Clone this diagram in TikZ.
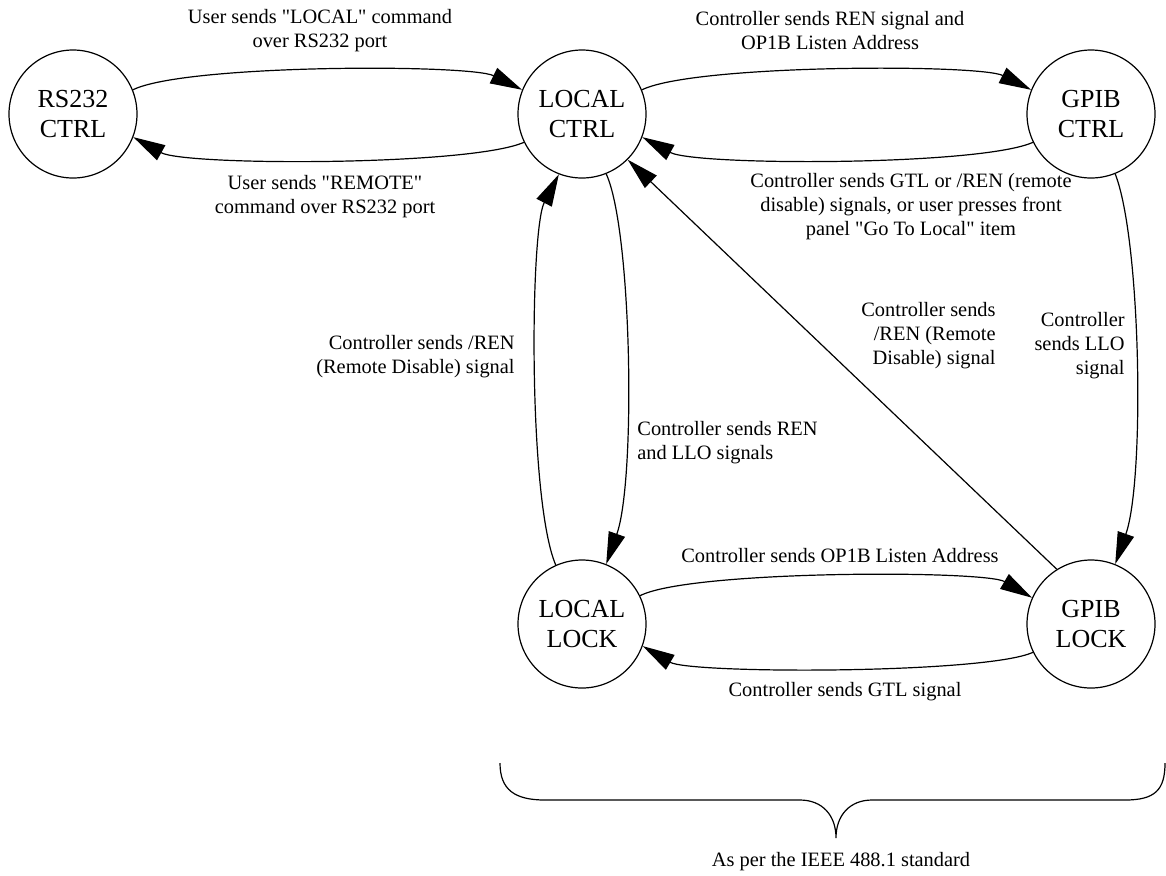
\documentclass[tikz,border=0pt]{standalone}
\usepackage{fontspec}
\setmainfont{Liberation Serif}[Ligatures=TeXOff]
\usetikzlibrary{arrows.meta}
\begin{document}
\begin{tikzpicture}[x=0.5pt,y=-0.5pt,
  state/.style={circle,draw,line width=0.6pt,minimum size=64pt,inner sep=0pt,align=center,
    font=\fontsize{13}{15}\selectfont},
  lbl/.style={inner sep=0pt,font=\fontsize{10.2}{12}\selectfont},
  conn/.style={line width=0.6pt,-{Triangle[length=16pt,width=8.5pt]}},
  plain/.style={line width=0.6pt}]
\useasboundingbox (0,0) rectangle (1166,875);

\node[state] (rs) at (73,114) {RS232\\CTRL};
\node[state] (lc) at (582,114) {LOCAL\\CTRL};
\node[state] (gc) at (1091,114) {GPIB\\CTRL};
\node[state] (ll) at (582,624) {LOCAL\\LOCK};
\node[state] (gl) at (1091,624) {GPIB\\LOCK};

% top row
\draw[conn] (rs.22) .. controls (185,64) and (470,64) .. (lc.158);
\draw[conn] (lc.206) .. controls (470,166) and (185,166) .. (rs.-21);
\draw[conn] (lc.22) .. controls (695,64) and (980,64) .. (gc.158);
\draw[conn] (gc.206) .. controls (980,166) and (695,166) .. (lc.-21);

% verticals
\draw[conn] (lc.-68) .. controls (632,230) and (636,480) .. (ll.68);
\draw[conn] (ll.114) .. controls (528,500) and (530,230) .. (lc.-111);
\draw[conn] (gc.-68) .. controls (1141,240) and (1145,480) .. (gl.68);
\draw[conn] (gl.122) -- (lc.-45);

% bottom row
\draw[conn] (ll.26) .. controls (690,570) and (985,570) .. (gl.156);
\draw[conn] (gl.206) .. controls (985,674) and (690,674) .. (ll.-20);

% labels
\node[lbl,align=center] (t1) at (320,31) {User sends "LOCAL" command\\over RS232 port};
\node[lbl,align=center] (t2) at (325,197) {User sends "REMOTE"\\command over RS232 port};
\node[lbl,align=center] (t3) at (830,31) {Controller sends REN signal and\\OP1B Listen Address};
\node[lbl,align=center] (t4) at (911,207) {Controller sends GTL or /REN (remote\\disable) signals, or user presses front\\panel "Go To Local" item};
\node[lbl,align=left,anchor=west] (t5) at (637,443) {Controller sends REN\\and LLO signals};
\node[lbl,align=right,anchor=east] (t6) at (515,357) {Controller sends /REN\\(Remote Disable) signal};
\node[lbl,align=right,anchor=east] (t7) at (996,336) {Controller sends\\/REN (Remote\\Disable) signal};
\node[lbl,align=right,anchor=east] (t8) at (1125,346) {Controller\\sends LLO\\signal};
\node[lbl,align=center] (t9) at (840,556) {Controller sends OP1B Listen Address};
\node[lbl,align=center] (t10) at (845,692) {Controller sends GTL signal};

% brace
\draw[plain] (500,763) .. controls (500,790) and (515,800) .. (545,800) -- (800,800)
  .. controls (822,800) and (836,815) .. (836,838)
  .. controls (836,815) and (850,800) .. (872,800) -- (1125,800)
  .. controls (1155,800) and (1165,790) .. (1165,763);
\node[lbl] (t11) at (841,862) {As per the IEEE 488.1 standard};
\end{tikzpicture}
\end{document}
